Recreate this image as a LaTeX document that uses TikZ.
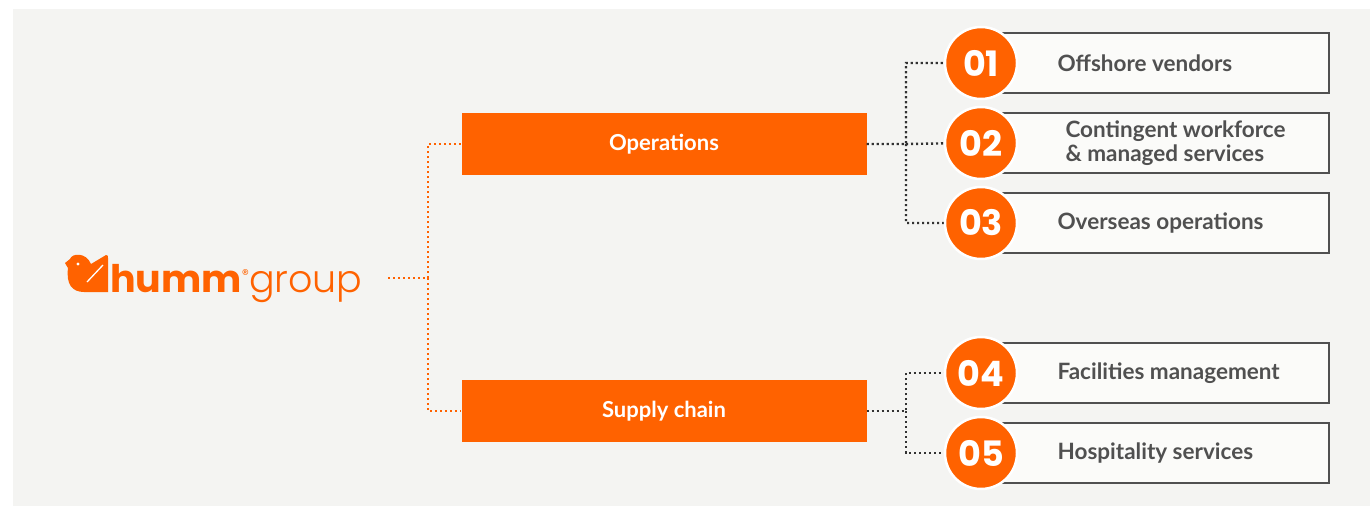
\documentclass[tikz,border=0pt]{standalone}
\usepackage{fontspec}
\setmainfont{Lato}
\newfontfamily\numfont{Poppins}
\newfontfamily\thinfont{Poppins}[UprightFont=* Light]
\usetikzlibrary{positioning}
\definecolor{hummorange}{RGB}{255,98,0}
\definecolor{panel}{RGB}{244,244,242}
\definecolor{itemfill}{RGB}{251,251,249}
\definecolor{itemgray}{RGB}{80,80,80}
\definecolor{dotgray}{RGB}{50,50,50}
\tikzset{
x=1pt, y=-1pt, % one unit is one pixel of the page, y runs down
node distance=80pt, % centre to centre, the items sit 80px apart
on grid,
every node/.style={inner sep=0pt},
branch/.style={rectangle, fill=hummorange, minimum width=405pt, minimum height=62pt, text=white, font=\fontsize{22}{26}\bfseries},
item/.style={rectangle, draw=itemgray, line width=1.3pt, fill=itemfill, minimum width=326pt, minimum height=60pt},
itemlabel/.style={anchor=west, text=itemgray, font=\fontsize{22.5}{24}\bfseries, align=left},
num/.style={circle, fill=hummorange, draw=white, line width=2.5pt, minimum size=72pt, text=white, font=\numfont\fontsize{35}{35}\bfseries},
dots/.style={line width=2.4pt, dash pattern=on 2.2pt off 2.8pt}
}

\begin{document}
\begin{tikzpicture}
   \useasboundingbox (0,0) rectangle (1370,506);
   \fill[panel] (13,9) rectangle (1370,506);
   % logo
   \fill[hummorange] (65,263) -- (70,259) .. controls (72,253) and (86,252) .. (91,264)
      -- (106,255) .. controls (108,255) and (108,256) .. (108,258) -- (108,292) -- (84,292)
      .. controls (72,292) and (66,284) .. (68,268) -- cycle;
   \fill[white] (78,264) circle (1.6);
   \draw[white, line width=1.3pt] (87,282) -- (103,265);
   \node[anchor=base west, text=hummorange] (logo) at (110,292)
      {\numfont\fontsize{38}{38}\bfseries humm\raisebox{13pt}{\fontsize{14}{14}\mdseries\selectfont ®}{\thinfont\mdseries group}};
   \coordinate (logoout) at (388,278);
   \coordinate (jl) at (428,278);

   \node[branch] (ops) at (664,144) {\raisebox{-2pt}{Operations}};
   \node[branch] (sup) at (664,411) {\raisebox{-2pt}{Supply chain}};

   \node[item] (b1) at (1166,63) {};
   \node[item] (b2) [below=of b1] {};
   \node[item] (b3) [below=of b2] {};
   \node[item] (b4) at (1166,373) {};
   \node[item] (b5) [below=of b4] {};
   \node[itemlabel] (t1) at ([xshift=55pt]b1.west) {Offshore vendors};
   \node[itemlabel] (t2) at ([xshift=63pt]b2.west) {Contingent workforce\\\& managed services};
   \node[itemlabel] (t3) at ([xshift=55pt]b3.west) {Overseas operations};
   \node[itemlabel] (t4) at ([xshift=55pt]b4.west) {Facilities management};
   \node[itemlabel] (t5) at ([xshift=55pt]b5.west) {Hospitality services};

   \coordinate (jo) at (906,144);
   \coordinate (js) at (906,411);
   \draw[dots, hummorange] (logoout) -- (jl) |- (ops.west) (jl) |- (sup.west);
   \draw[dots, dotgray] (ops.east) -- (jo) |- ([xshift=-36pt]b1.west) (jo) -- ([xshift=-36pt]b2.west) (jo) |- ([xshift=-36pt]b3.west);
   \draw[dots, dotgray] (sup.east) -- (js) |- ([xshift=-36pt]b4.west) (js) |- ([xshift=-36pt]b5.west);

   \node[num] (n1) [left=185pt of b1] {01};
   \node[num] (n2) [left=185pt of b2] {02};
   \node[num] (n3) [left=185pt of b3] {03};
   \node[num] (n4) [left=185pt of b4] {04};
   \node[num] (n5) [left=185pt of b5] {05};
\end{tikzpicture}
\end{document}
